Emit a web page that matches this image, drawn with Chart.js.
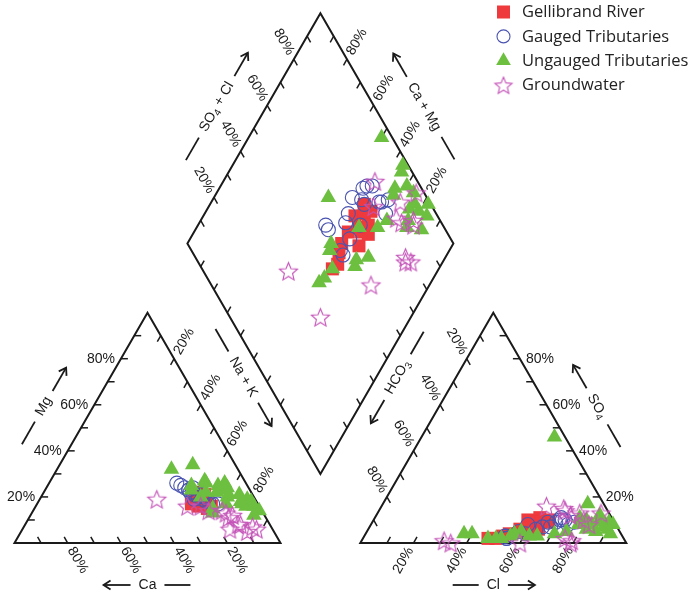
<!DOCTYPE html>
<html lang="en">
<head>
<meta charset="utf-8">
<title>Piper diagram</title>
<script src="https://cdn.jsdelivr.net/npm/chart.js@4.4.1/dist/chart.umd.min.js"></script>
<style>
  html, body { margin: 0; padding: 0; background: #ffffff; }
  #piper { display: block; }
</style>
</head>
<body>
<canvas id="piper" width="698" height="594"></canvas>
<script>
// Major-ion composition of each sample, meq %:
// [Mg, Na + K, SO4, Cl]   (Ca and HCO3 are the remainders to 100 %)
const gellibrandRiver = [
  [18, 60, 2, 47], [20, 58, 4, 54], [17, 58, 6, 57], [15, 65, 5, 59],
  [21, 58, 9, 66], [19, 62, 10, 66], [22, 57, 7, 62], [16, 61, 2, 50],
  [18, 63, 8, 60], [20, 60, 11, 62], [16, 66, 6, 64], [19, 59, 3, 52],
  [17, 64, 9, 63], [21, 61, 10, 58]
];
const gaugedTributaries = [
  [26, 48, 2, 54], [25, 50, 3, 53], [20, 59, 3, 53], [19, 61, 2, 54],
  [21, 60, 5, 57], [24, 52, 7, 65], [23, 54, 9, 69], [18, 63, 10, 71],
  [17, 68, 11, 70], [20, 61, 6, 63], [23, 54, 8, 59], [22, 56, 9, 66],
  [21, 57, 10, 72], [19, 58, 7, 68], [22, 55, 4, 60], [18, 64, 8, 74],
  [24, 55, 10, 70], [17, 66, 9, 76]
];
const ungaugedTributaries = [
  [34, 50, 46, 50], [32, 43, 5, 58], [27, 58, 4, 37], [26, 59, 4, 40],
  [17, 77, 17, 77], [23, 67, 11, 77], [21, 70, 7, 88], [18, 80, 9, 85],
  [20, 70, 5, 75], [16, 79, 8, 78], [24, 68, 4, 71], [22, 61, 3, 65],
  [15, 67, 4, 56], [13, 68, 3, 55], [25, 54, 2, 52], [23, 55, 2, 50],
  [25, 64, 9, 89], [22, 65, 6, 90], [16, 82, 8, 91], [14, 85, 5, 86],
  [19, 78, 6, 82], [21, 74, 12, 84], [26, 66, 10, 80], [12, 84, 4, 92],
  [18, 76, 8, 83], [17, 71, 3, 62], [20, 60, 2, 47]
];
const groundwater = [
  [19, 44, 1, 31], [14, 66, 0, 34], [6, 78, 0, 60], [5, 85, 0, 79],
  [7, 86, 2, 76], [16, 57, 15, 69], [14, 71, 13, 76], [8, 81, 10, 79],
  [11, 75, 13, 84], [12, 76, 12, 73], [16, 62, 16, 62], [6, 88, 1, 79],
  [13, 73, 14, 70], [8, 80, 8, 82]
];
const seriesNames = ['Gellibrand River', 'Gauged Tributaries', 'Ungauged Tributaries', 'Groundwater'];
const tickLabels = [20, 40, 60, 80];   // labelled percentages on each scale
const tickSteps = [10, 20, 30, 40, 50, 60, 70, 80, 90];

// ---- diagram geometry (triangle side = 100 plot units) ----
const R3 = Math.sqrt(3) / 2;
const SIDE = 100, GAP = 30;
const ANION_X0 = SIDE + GAP;
const cationPt = (mg, na) => ({ x: na + mg / 2, y: R3 * mg });
const anionPt = (so4, cl) => ({ x: ANION_X0 + cl + so4 / 2, y: R3 * so4 });
const DIAMOND_B = { x: SIDE + GAP / 2, y: R3 * GAP };
const diamondPt = (na, sc) => {
  const s = sc / 100, t = 1 - na / 100;
  return { x: DIAMOND_B.x + 50 * s - 50 * t, y: DIAMOND_B.y + 100 * R3 * (s + t) };
};
const project = rows => rows.flatMap(([mg, na, so4, cl]) => [
  cationPt(mg, na), anionPt(so4, cl), diamondPt(na, so4 + cl)
]);

// equal pixel scale on both axes
const PX_PER_UNIT = 2.66, ORIGIN_X = 14.5, ORIGIN_Y = 543, W = 698, H = 594;
const X_MIN = -ORIGIN_X / PX_PER_UNIT, X_MAX = X_MIN + W / PX_PER_UNIT;
const Y_MAX = ORIGIN_Y / PX_PER_UNIT, Y_MIN = Y_MAX - H / PX_PER_UNIT;

const FONT = '"Liberation Sans", Arial, Helvetica, sans-serif';
const LEGEND_FONT = '"Open Sans", "Noto Sans", sans-serif';
const INK = '#1a1a1a';
const RED = '#ee3a3c', BLUE = '#4a54b0', GREEN = '#6dbf40', PINK = '#c452b8';

function makeStar(r, color) {
  const c = document.createElement('canvas');
  const s = Math.ceil(2 * r + 4);
  c.width = c.height = s;
  const g = c.getContext('2d');
  g.translate(s / 2, s / 2 + r * 0.1);
  g.beginPath();
  for (let i = 0; i < 10; i++) {
    const a = -Math.PI / 2 + i * Math.PI / 5;
    const rr = i % 2 ? r * 0.45 : r;
    g.lineTo(Math.cos(a) * rr, Math.sin(a) * rr);
  }
  g.closePath();
  g.strokeStyle = color;
  g.lineWidth = 1.1;
  g.stroke();
  return c;
}
const starIcon = makeStar(9.5, PINK);
const starLegend = makeStar(9, PINK);

// vertices
const cL = cationPt(0, 0), cR = cationPt(0, 100), cT = cationPt(100, 0);
const aL = anionPt(0, 0), aR = anionPt(0, 100), aT = anionPt(100, 0);
const dB = diamondPt(100, 0), dR = diamondPt(100, 100), dL = diamondPt(0, 0), dT = diamondPt(0, 100);

// scale edges: point along the edge, inward tick direction (px), label placement
const edges = [
  { pt: v => cationPt(v, 0), dir: [1, 0], label: 'right' },
  { pt: v => cationPt(0, 100 - v), dir: [-0.5, -R3], label: 'rot', deg: 60 },
  { pt: v => cationPt(100 - v, v), dir: [-0.5, R3], label: 'rot', deg: -60 },
  { pt: v => anionPt(100 - v, 0), dir: [0.5, R3], label: 'rot', deg: 60 },
  { pt: v => anionPt(v, 100 - v), dir: [-1, 0], label: 'left' },
  { pt: v => anionPt(0, v), dir: [0.5, -R3], label: 'rot', deg: -60 },
  { pt: v => diamondPt(0, v), dir: [0.5, R3], label: 'rot', deg: 60 },
  { pt: v => diamondPt(100 - v, 100), dir: [-0.5, R3], label: 'rot', deg: -60 },
  { pt: v => diamondPt(v, 0), dir: [0.5, -R3] },
  { pt: v => diamondPt(100, v), dir: [-0.5, -R3] }
];

const titles = [
  { parts: [{ t: 'Mg' }], edge: [cL, cT], f: 0.5, n: [-R3, -0.5], d: 43, deg: -60, before: 'dash', after: 'arrow' },
  { parts: [{ t: 'Ca' }], edge: [cL, cR], f: 0.5, n: [0, 1], d: 42, deg: 0, before: 'arrow', after: 'dash' },
  { parts: [{ t: 'Na + K' }], edge: [cT, cR], f: 0.39, n: [R3, -0.5], d: 50.7, deg: 60, before: 'dash', after: 'arrow' },
  { parts: [{ t: 'HCO' }, { t: '3', sub: true }], edge: [aT, aL], f: 0.39, n: [-R3, -0.5], d: 50.7, deg: -60, before: 'arrow', after: 'dash' },
  { parts: [{ t: 'SO' }, { t: '4', sub: true }], edge: [aT, aR], f: 0.5, n: [R3, -0.5], d: 43, deg: 60, before: 'arrow', after: 'dash' },
  { parts: [{ t: 'Cl' }], edge: [aL, aR], f: 0.5, n: [0, 1], d: 42, deg: 0, before: 'dash', after: 'arrow' },
  { parts: [{ t: 'SO' }, { t: '4', sub: true }, { t: ' + Cl' }], edge: [dL, dT], f: 0.5, n: [-R3, -0.5], d: 43, deg: -60, before: 'dash', after: 'arrow' },
  { parts: [{ t: 'Ca + Mg' }], edge: [dT, dR], f: 0.5, n: [R3, -0.5], d: 43, deg: 60, before: 'arrow', after: 'dash' }
];

function partsWidth(ctx, parts, size) {
  let w = 0;
  for (const p of parts) {
    ctx.font = `${p.sub ? Math.round(size * 0.72) : size}px ${FONT}`;
    w += ctx.measureText(p.t).width;
  }
  return w;
}
function drawParts(ctx, parts, size, x0) {
  let x = x0;
  for (const p of parts) {
    ctx.font = `${p.sub ? Math.round(size * 0.72) : size}px ${FONT}`;
    ctx.fillText(p.t, x, p.sub ? size * 0.3 : 0);
    x += ctx.measureText(p.t).width;
  }
}
function drawMark(ctx, kind, from, to) {
  ctx.beginPath();
  ctx.moveTo(from, 0);
  ctx.lineTo(to, 0);
  ctx.stroke();
  if (kind === 'arrow') {
    const s = Math.sign(to - from);
    ctx.beginPath();
    ctx.moveTo(to - s * 7, -4.5);
    ctx.lineTo(to, 0);
    ctx.lineTo(to - s * 7, 4.5);
    ctx.stroke();
  }
}
function drawTitle(ctx, cx, cy, title) {
  const size = 14, gap = 8, dashLen = 26, arrowLen = 27;
  ctx.save();
  ctx.translate(cx, cy);
  ctx.rotate(title.deg * Math.PI / 180);
  ctx.fillStyle = INK;
  ctx.strokeStyle = INK;
  ctx.lineWidth = 1.8;
  ctx.textAlign = 'left';
  ctx.textBaseline = 'middle';
  const w = partsWidth(ctx, title.parts, size);
  drawParts(ctx, title.parts, size, -w / 2);
  const a0 = w / 2 + gap;
  drawMark(ctx, title.before, -a0, -a0 - (title.before === 'arrow' ? arrowLen : dashLen));
  drawMark(ctx, title.after, a0, a0 + (title.after === 'arrow' ? arrowLen : dashLen));
  ctx.restore();
}

const piperFrame = {
  id: 'piperFrame',
  beforeDatasetsDraw(chart) {
    const ctx = chart.ctx;
    const sx = chart.scales.x, sy = chart.scales.y;
    const px = p => [sx.getPixelForValue(p.x), sy.getPixelForValue(p.y)];
    ctx.save();
    ctx.strokeStyle = INK;
    ctx.lineJoin = 'miter';
    ctx.lineWidth = 2;
    for (const poly of [[cL, cR, cT], [aL, aR, aT], [dB, dR, dT, dL]]) {
      ctx.beginPath();
      poly.forEach((p, i) => { const [x, y] = px(p); i ? ctx.lineTo(x, y) : ctx.moveTo(x, y); });
      ctx.closePath();
      ctx.stroke();
    }
    // ticks
    ctx.lineWidth = 1.5;
    for (const e of edges) {
      for (const v of tickSteps) {
        const [x, y] = px(e.pt(v));
        ctx.beginPath();
        ctx.moveTo(x, y);
        ctx.lineTo(x + e.dir[0] * 7, y + e.dir[1] * 7);
        ctx.stroke();
      }
    }
    // tick labels
    ctx.fillStyle = INK;
    ctx.font = `14px ${FONT}`;
    ctx.textBaseline = 'middle';
    for (const e of edges) {
      if (!e.label) continue;
      for (const v of tickLabels) {
        const [x, y] = px(e.pt(v));
        const txt = `${v}%`;
        if (e.label === 'right') {
          ctx.textAlign = 'right';
          ctx.fillText(txt, x - 6, y);
        } else if (e.label === 'left') {
          ctx.textAlign = 'left';
          ctx.fillText(txt, x + 6, y);
        } else {
          ctx.save();
          ctx.translate(x - e.dir[0] * 20, y - e.dir[1] * 20);
          ctx.rotate(e.deg * Math.PI / 180);
          ctx.textAlign = 'center';
          ctx.fillText(txt, 0, 0);
          ctx.restore();
        }
      }
    }
    // axis titles
    for (const t of titles) {
      const [ax, ay] = px(t.edge[0]), [bx, by] = px(t.edge[1]);
      const cx = ax + (bx - ax) * t.f + t.n[0] * t.d;
      const cy = ay + (by - ay) * t.f + t.n[1] * t.d;
      drawTitle(ctx, cx, cy, t);
    }
    ctx.restore();
  },
  afterDraw(chart) {
    const ctx = chart.ctx;
    const mx = 503.5, tx = 522, y0 = 12, dy = 24.4;
    ctx.save();
    seriesNames.forEach((name, i) => {
      const y = y0 + i * dy;
      if (i === 0) {
        ctx.fillStyle = RED;
        ctx.fillRect(mx - 6.5, y - 6.5, 13, 13);
      } else if (i === 1) {
        ctx.strokeStyle = BLUE;
        ctx.lineWidth = 1.1;
        ctx.beginPath();
        ctx.arc(mx, y, 6.5, 0, Math.PI * 2);
        ctx.stroke();
      } else if (i === 2) {
        const r = 8.5;
        ctx.fillStyle = GREEN;
        ctx.beginPath();
        ctx.moveTo(mx, y - r);
        ctx.lineTo(mx + r * R3, y + r / 2);
        ctx.lineTo(mx - r * R3, y + r / 2);
        ctx.closePath();
        ctx.fill();
      } else {
        ctx.drawImage(starLegend, mx - starLegend.width / 2, y - starLegend.height / 2);
      }
      ctx.fillStyle = '#222222';
      ctx.font = `16.5px ${LEGEND_FONT}`;
      ctx.textAlign = 'left';
      ctx.textBaseline = 'middle';
      ctx.fillText(name, tx, y + 0.5);
    });
    ctx.restore();
  }
};

const chart = new Chart(document.getElementById('piper'), {
  type: 'scatter',
  data: {
    datasets: [
      {
        label: seriesNames[0], data: project(gellibrandRiver), order: 4,
        pointStyle: 'rect', pointRadius: 9.2, pointBackgroundColor: RED, pointBorderWidth: 0, pointBorderColor: RED
      },
      {
        label: seriesNames[1], data: project(gaugedTributaries), order: 3,
        pointStyle: 'circle', pointRadius: 7, pointBackgroundColor: 'rgba(0,0,0,0)', pointBorderColor: BLUE, pointBorderWidth: 1.1
      },
      {
        label: seriesNames[2], data: project(ungaugedTributaries), order: 2,
        pointStyle: 'triangle', pointRadius: 9, pointBackgroundColor: GREEN, pointBorderWidth: 0, pointBorderColor: GREEN
      },
      {
        label: seriesNames[3], data: project(groundwater), order: 1,
        pointStyle: starIcon, pointRadius: 9.5
      }
    ]
  },
  options: {
    responsive: false,
    animation: false,
    events: [],
    devicePixelRatio: 1,
    layout: { padding: 0, autoPadding: false },
    plugins: { legend: { display: false }, tooltip: { enabled: false } },
    scales: {
      x: { type: 'linear', display: false, min: X_MIN, max: X_MAX },
      y: { type: 'linear', display: false, min: Y_MIN, max: Y_MAX }
    }
  },
  plugins: [piperFrame]
});
</script>
</body>
</html>
